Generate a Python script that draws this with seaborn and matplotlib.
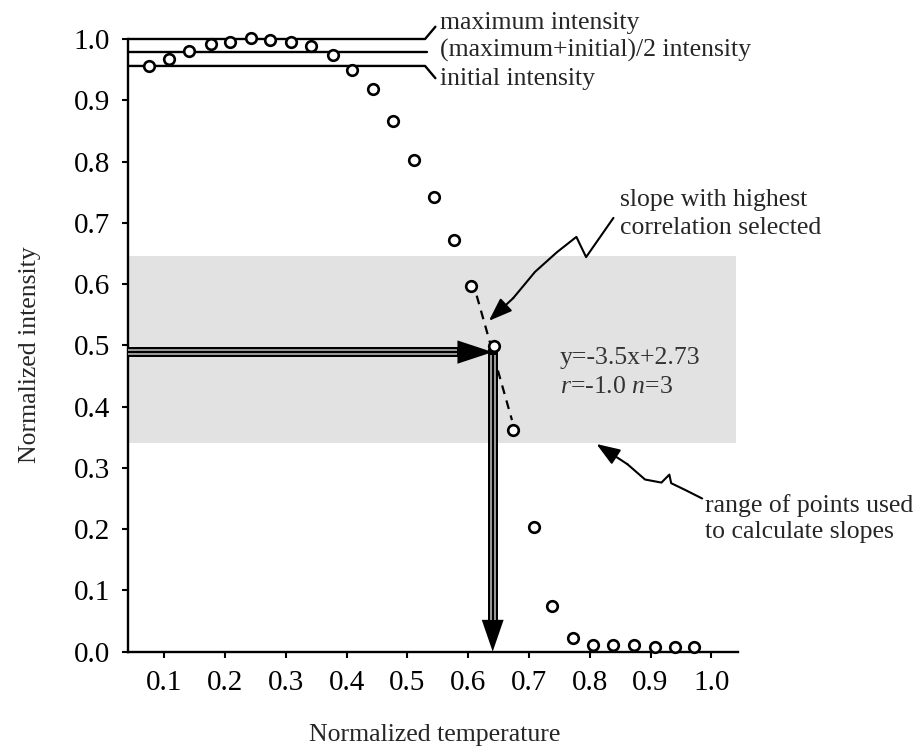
import matplotlib
matplotlib.use("Agg")
import matplotlib.pyplot as plt
import seaborn as sns
import pandas as pd

# ---------------- data ----------------
temperature = [0.074, 0.108, 0.141, 0.176, 0.208, 0.243, 0.274, 0.309, 0.341, 0.377,
               0.408, 0.443, 0.477, 0.510, 0.543, 0.576, 0.605, 0.643, 0.674, 0.709,
               0.738, 0.773, 0.806, 0.839, 0.873, 0.908, 0.941, 0.972]
intensity = [0.956, 0.967, 0.981, 0.992, 0.995, 1.002, 0.998, 0.995, 0.989, 0.974,
             0.950, 0.918, 0.866, 0.802, 0.742, 0.672, 0.597, 0.499, 0.362, 0.204,
             0.075, 0.022, 0.011, 0.011, 0.011, 0.008, 0.008, 0.008]
selected_temperature = [0.605, 0.643, 0.674]

max_intensity = 1.0
initial_intensity = 0.956
band_low, band_high = 0.34, 0.645
fit_slope, fit_intercept = -3.5, 2.73

x_ticks = [0.1, 0.2, 0.3, 0.4, 0.5, 0.6, 0.7, 0.8, 0.9, 1.0]
x_tick_labels = ["0.1", "0.2", "0.3", "0.4", "0.5", "0.6", "0.7", "0.8", "0.9", "1.0"]
y_ticks = [0.0, 0.1, 0.2, 0.3, 0.4, 0.5, 0.6, 0.7, 0.8, 0.9, 1.0]
y_tick_labels = ["0.0", "0.1", "0.2", "0.3", "0.4", "0.5", "0.6", "0.7", "0.8", "0.9", "1.0"]

df = pd.DataFrame({"temperature": temperature, "intensity": intensity})

# ---------------- style ----------------
sns.set_theme(style="ticks")
plt.rcParams["font.family"] = ["Liberation Serif", "DejaVu Serif"]
plt.rcParams["mathtext.fontset"] = "custom"
plt.rcParams["mathtext.rm"] = "Liberation Serif"
plt.rcParams["mathtext.it"] = "Liberation Serif:italic"

fig = plt.figure(figsize=(9.16, 7.47), dpi=100)
ax = fig.add_axes([0.1401, 0.1276, 0.6656, 0.8202])
X0, X1 = 0.0407, 1.044
ax.set_xlim(X0, X1)
ax.set_ylim(0, 1.0)

# grey band: range of points used for slopes
ax.axhspan(band_low, band_high, xmin=0, xmax=0.997, color="#e2e2e2", lw=0, zorder=0)

# reference intensity levels
mid_intensity = (max_intensity + initial_intensity) / 2
lw_ref = 1.7
ax.plot([X0, 0.529, 0.546], [max_intensity, max_intensity, max_intensity + 0.02],
        color="black", lw=lw_ref, clip_on=False, zorder=3)
ax.plot([X0, 0.532], [mid_intensity, mid_intensity],
        color="black", lw=lw_ref, clip_on=False, zorder=3)
ax.plot([X0, 0.529, 0.546], [initial_intensity, initial_intensity, initial_intensity - 0.02],
        color="black", lw=lw_ref, clip_on=False, zorder=3)
ax.text(0.554, 1.026, "maximum intensity", fontsize=18.5, va="center", ha="left")
ax.text(0.554, 0.981, "(maximum+initial)/2 intensity", fontsize=18.5, va="center", ha="left")
ax.text(0.554, 0.935, "initial intensity", fontsize=18.5, va="center", ha="left")

# fitted slope (dashed)
fit_x = [selected_temperature[0] + 0.002, selected_temperature[-1] - 0.002]
fit_y = [fit_slope * v + fit_intercept for v in fit_x]
sns.lineplot(x=fit_x, y=fit_y, ax=ax, color="black", lw=1.6, zorder=4)
ax.lines[-1].set_dashes((4, 3))

# half-intensity crossing arrows
y_half = mid_intensity / 2
x_cross = (y_half - fit_intercept) / fit_slope
dy = 0.0036  # inner line offset (y units)
dx = 0.0036  # inner line offset (x units)
h_base = x_cross - 0.058
ax.plot([X0, h_base + 0.003], [y_half, y_half], color="black", lw=7.2,
        solid_capstyle="butt", zorder=4)
for o in (-dy, dy):
    ax.plot([X0, h_base], [y_half + o, y_half + o], color="#c4c4c4", lw=1.1,
            solid_capstyle="butt", zorder=4.1)
ax.fill([h_base, h_base, x_cross], [y_half - 0.019, y_half + 0.019, y_half],
        color="black", lw=0, zorder=4)

v_base = 0.052
ax.plot([x_cross, x_cross], [y_half + 0.0058, v_base - 0.003], color="black", lw=7.2,
        solid_capstyle="butt", zorder=4)
for o in (-dx, dx):
    ax.plot([x_cross + o, x_cross + o], [y_half - 0.004, v_base], color="#c4c4c4", lw=1.1,
            solid_capstyle="butt", zorder=4.1)
ax.fill([x_cross - 0.018, x_cross + 0.018, x_cross], [v_base, v_base, 0.0],
        color="black", lw=0, zorder=4, clip_on=False)

# data points
sns.scatterplot(data=df, x="temperature", y="intensity", ax=ax, marker="o", s=58,
                color="white", edgecolor="black", linewidth=1.9, clip_on=False, zorder=6,
                legend=False)

# fit text
ax.text(0.751, 0.479, "y=-3.5x+2.73", fontsize=18.5, color="#333333", va="center", ha="left")
ax.text(0.751, 0.4325, r"$r$=-1.0 $n$=3", fontsize=18.5, color="#333333", va="center", ha="left")

# squiggly callout arrows
ap = dict(arrowstyle="-|>,head_length=0.6,head_width=0.22", mutation_scale=24,
          color="black", lw=1.5, shrinkA=0, shrinkB=0)
sq1_x = [0.839, 0.794, 0.778, 0.746, 0.710, 0.674]
sq1_y = [0.708, 0.644, 0.677, 0.652, 0.620, 0.577]
ax.plot(sq1_x, sq1_y, color="black", lw=1.5, solid_joinstyle="round", zorder=5)
ax.annotate("", xy=(0.634, 0.540), xytext=(sq1_x[-1], sq1_y[-1]), arrowprops=ap, zorder=5)
ax.text(0.849, 0.737, "slope with highest", fontsize=18.5, va="center", ha="left")
ax.text(0.849, 0.691, "correlation selected", fontsize=18.5, va="center", ha="left")

sq2_x = [0.985, 0.957, 0.934, 0.931, 0.918, 0.891, 0.862]
sq2_y = [0.250, 0.264, 0.275, 0.289, 0.276, 0.281, 0.306]
ax.plot(sq2_x, sq2_y, color="black", lw=1.5, solid_joinstyle="round", clip_on=False, zorder=5)
ax.annotate("", xy=(0.811, 0.339), xytext=(sq2_x[-1], sq2_y[-1]), arrowprops=ap, zorder=5)
ax.text(0.990, 0.239, "range of points used", fontsize=18.5, va="center", ha="left")
ax.text(0.990, 0.196, "to calculate slopes", fontsize=18.5, va="center", ha="left")

# axes
ax.set_xticks(x_ticks)
ax.set_xticklabels(x_tick_labels)
ax.set_yticks(y_ticks)
ax.set_yticklabels(y_tick_labels)
ax.tick_params(axis="both", direction="out", length=4, width=1.5, labelsize=21,
               pad=9, colors="black")
sns.despine(ax=ax)
for s in ("left", "bottom"):
    ax.spines[s].set_linewidth(1.7)
    ax.spines[s].set_color("black")

ax.set_xlabel("Normalized temperature", fontsize=18.5)
ax.xaxis.label.set_va("center")
ax.xaxis.set_label_coords(0.503, -0.136)
ax.set_ylabel("Normalized intensity", fontsize=18.5)
ax.yaxis.label.set_va("center")
ax.yaxis.set_label_coords(-0.161, 0.484)

fig.savefig("out.png", dpi=100, facecolor="white")
